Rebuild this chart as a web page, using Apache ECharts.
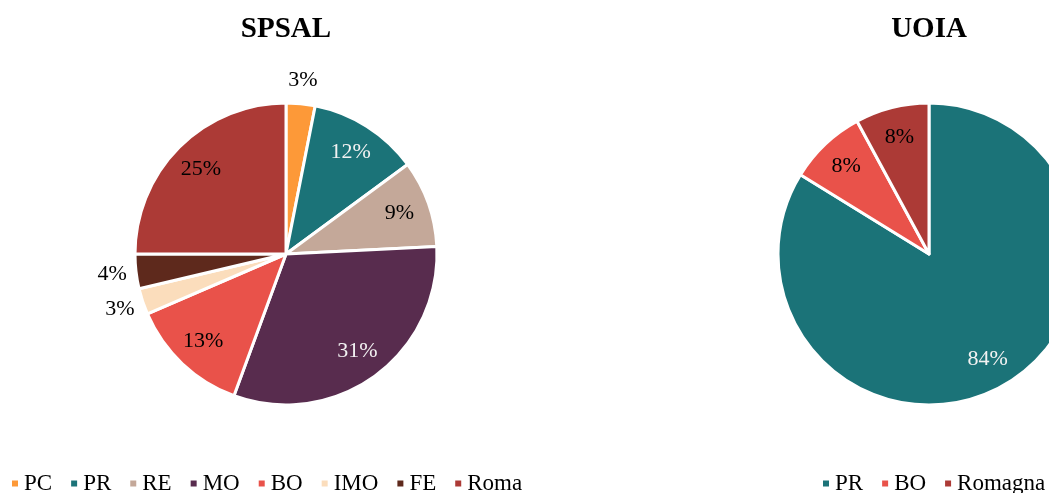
<!DOCTYPE html>
<html>
<head>
<meta charset="utf-8">
<script src="https://cdn.jsdelivr.net/npm/echarts@6/dist/echarts.min.js"></script>
<style>
    html, body { margin: 0; padding: 0; background: #ffffff; }
    .clip { position: absolute; top: 0; height: 493px; overflow: hidden; }
    #left-clip { left: 0; width: 523px; }
    #right-clip { left: 560px; width: 489px; }
</style>
</head>
<body>
<div id="left-clip" class="clip"><div id="spsal" style="width:660px;height:493px"></div></div>
<div id="right-clip" class="clip"><div id="uoia" style="width:740px;height:493px"></div></div>
<script>
// SPSAL
var spsalNames = ['PC', 'PR', 'RE', 'MO', 'BO', 'IMO', 'FE', 'Romagna'];
var spsalValues = [3.1, 11.8, 9.3, 31.4, 12.9, 2.8, 3.7, 25.0];
// UOIA
var uoiaNames = ['PR', 'BO', 'Romagna'];
var uoiaValues = [83.8, 8.3, 7.9];

var colorOf = {
    PC: '#FD9938', PR: '#1B7378', RE: '#C4A899', MO: '#582C4E',
    BO: '#E9524A', IMO: '#FBDDBC', FE: '#5E291C', Romagna: '#AC3A36'
};
var lightText = { PR: true, MO: true };
var font = 'Liberation Serif, Times New Roman, serif';

function pct(p) {
    return Math.round(p.percent) + '%';
}

function buildOption(title, names, values, centerX, legendLeft) {
    var R = 151;
    var slices = [], inner = [], outer = [];
    var total = values.reduce(function (a, b) { return a + b; }, 0);
    for (var i = 0; i < names.length; i++) {
        var small = values[i] / total < 0.05;
        slices.push({ name: names[i], value: values[i], itemStyle: { color: colorOf[names[i]] } });
        inner.push({
            name: names[i], value: values[i],
            label: { show: !small, color: lightText[names[i]] ? '#F2F2F2' : '#000000' }
        });
        outer.push({ name: names[i], value: values[i], label: { show: small } });
    }
    var labelSeries = {
        type: 'pie',
        center: [centerX, 254],
        silent: true,
        avoidLabelOverlap: false,
        itemStyle: { color: 'rgba(0,0,0,0)', borderWidth: 0 },
        labelLine: { show: false },
        emphasis: { disabled: true },
        animation: false
    };
    return {
        animation: false,
        title: {
            text: title,
            left: centerX - 5,
            textAlign: 'center',
            top: 10,
            textStyle: { fontFamily: font, fontSize: 29, fontWeight: 'bold', color: '#000000' }
        },
        legend: {
            data: names.map(function (n) { return { name: n, itemStyle: { color: colorOf[n] } }; }),
            left: legendLeft,
            top: 467,
            icon: 'rect',
            itemWidth: 8,
            itemHeight: 8,
            itemGap: 17,
            selectedMode: false,
            textStyle: { fontFamily: font, fontSize: 23, color: '#000000' }
        },
        series: [
            {
                type: 'pie',
                center: [centerX, 254],
                radius: R,
                label: { show: false },
                labelLine: { show: false },
                itemStyle: { borderColor: '#ffffff', borderWidth: 3 },
                emphasis: { disabled: true },
                data: slices
            },
            Object.assign({}, labelSeries, {
                radius: [84, R],
                label: { position: 'inside', formatter: pct, fontFamily: font, fontSize: 22 },
                data: inner
            }),
            Object.assign({}, labelSeries, {
                radius: [R, 193],
                label: { position: 'inside', formatter: pct, fontFamily: font, fontSize: 22, color: '#000000' },
                data: outer
            })
        ]
    };
}

var spsalChart = echarts.init(document.getElementById('spsal'));
spsalChart.setOption(buildOption('SPSAL', spsalNames, spsalValues, 286, 5));

var uoiaChart = echarts.init(document.getElementById('uoia'));
uoiaChart.setOption(buildOption('UOIA', uoiaNames, uoiaValues, 369, 256));
</script>
</body>
</html>
